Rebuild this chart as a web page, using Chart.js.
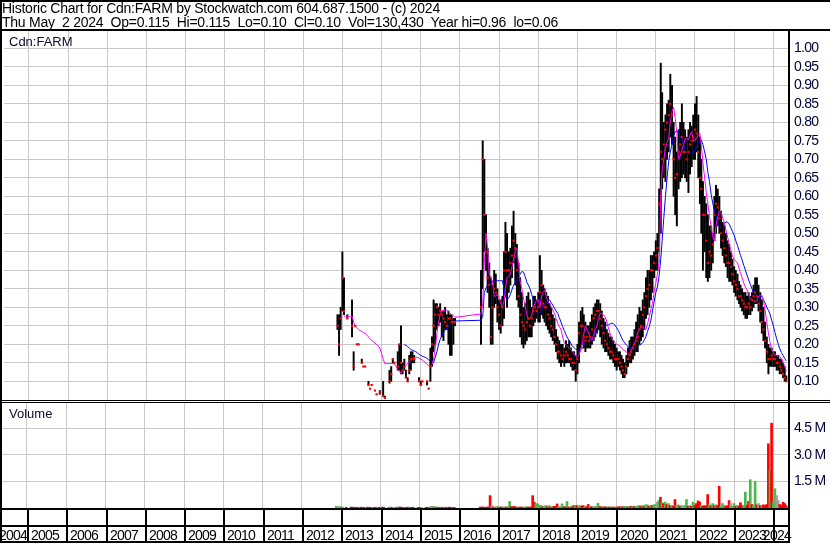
<!DOCTYPE html>
<html>
<head>
<meta charset="utf-8">
<title>Historic Chart for Cdn:FARM</title>
<script src="https://cdn.jsdelivr.net/npm/chart.js@4.4.1/dist/chart.umd.min.js"></script>
<style>
  body { margin: 0; background: #fff; }
  #wrap { position: relative; width: 830px; height: 543px; overflow: hidden; background: #fff; }
  #wrap canvas { position: absolute; left: 0; top: 0; }
  .txt { position: absolute; font-family: "Liberation Sans", Arial, sans-serif; white-space: pre; color: #000; line-height: 14px; }
  .hdr { left: 2px; font-size: 14px; letter-spacing: -0.25px; }
  .lbl { left: 9px; font-size: 13px; color: #0a0a30; }
</style>
</head>
<body>
<div id="wrap">
  <canvas id="priceChart" width="830" height="543"></canvas>
  <canvas id="volumeChart" width="830" height="543"></canvas>
  <div class="txt hdr" style="top:1px">Historic Chart for Cdn:FARM by Stockwatch.com 604.687.1500 - (c) 2024</div>
  <div class="txt hdr" style="top:15px">Thu May  2 2024  Op=0.115  Hi=0.115  Lo=0.10  Cl=0.10  Vol=130,430  Year hi=0.96  lo=0.06</div>
  <div class="txt lbl" style="top:35px">Cdn:FARM</div>
  <div class="txt lbl" style="top:407px">Volume</div>
</div>
<script>
// half-month sampling dates
const dates = [
'2012-11-16','2012-12-01','2012-12-16',
'2013-01-01','2013-01-16','2013-02-01','2013-02-16','2013-03-01','2013-03-16','2013-04-01','2013-04-16','2013-05-01','2013-05-16','2013-06-01','2013-06-16','2013-07-01','2013-07-16','2013-08-01','2013-08-16','2013-09-01','2013-09-16','2013-10-01','2013-10-16','2013-11-01','2013-11-16','2013-12-01','2013-12-16',
'2014-01-01','2014-01-16','2014-02-01','2014-02-16','2014-03-01','2014-03-16','2014-04-01','2014-04-16','2014-05-01','2014-05-16','2014-06-01','2014-06-16','2014-07-01','2014-07-16','2014-08-01','2014-08-16','2014-09-01','2014-09-16','2014-10-01','2014-10-16','2014-11-01','2014-11-16','2014-12-01','2014-12-16',
'2015-01-01','2015-01-16','2015-02-01','2015-02-16','2015-03-01','2015-03-16','2015-04-01','2015-04-16','2015-05-01','2015-05-16','2015-06-01','2015-06-16','2015-07-01','2015-07-16','2015-08-01','2015-08-16','2015-09-01','2015-09-16','2015-10-01','2015-10-16','2015-11-01','2015-11-16','2015-12-01','2015-12-16',
'2016-01-01','2016-01-16','2016-02-01','2016-02-16','2016-03-01','2016-03-16','2016-04-01','2016-04-16','2016-05-01','2016-05-16','2016-06-01','2016-06-16','2016-07-01','2016-07-16','2016-08-01','2016-08-16','2016-09-01','2016-09-16','2016-10-01','2016-10-16','2016-11-01','2016-11-16','2016-12-01','2016-12-16',
'2017-01-01','2017-01-16','2017-02-01','2017-02-16','2017-03-01','2017-03-16','2017-04-01','2017-04-16','2017-05-01','2017-05-16','2017-06-01','2017-06-16','2017-07-01','2017-07-16','2017-08-01','2017-08-16','2017-09-01','2017-09-16','2017-10-01','2017-10-16','2017-11-01','2017-11-16','2017-12-01','2017-12-16',
'2018-01-01','2018-01-16','2018-02-01','2018-02-16','2018-03-01','2018-03-16','2018-04-01','2018-04-16','2018-05-01','2018-05-16','2018-06-01','2018-06-16','2018-07-01','2018-07-16','2018-08-01','2018-08-16','2018-09-01','2018-09-16','2018-10-01','2018-10-16','2018-11-01','2018-11-16','2018-12-01','2018-12-16',
'2019-01-01','2019-01-16','2019-02-01','2019-02-16','2019-03-01','2019-03-16','2019-04-01','2019-04-16','2019-05-01','2019-05-16','2019-06-01','2019-06-16','2019-07-01','2019-07-16','2019-08-01','2019-08-16','2019-09-01','2019-09-16','2019-10-01','2019-10-16','2019-11-01','2019-11-16','2019-12-01','2019-12-16',
'2020-01-01','2020-01-16','2020-02-01','2020-02-16','2020-03-01','2020-03-16','2020-04-01','2020-04-16','2020-05-01','2020-05-16','2020-06-01','2020-06-16','2020-07-01','2020-07-16','2020-08-01','2020-08-16','2020-09-01','2020-09-16','2020-10-01','2020-10-16','2020-11-01','2020-11-16','2020-12-01','2020-12-16',
'2021-01-01','2021-01-16','2021-02-01','2021-02-16','2021-03-01','2021-03-16','2021-04-01','2021-04-16','2021-05-01','2021-05-16','2021-06-01','2021-06-16','2021-07-01','2021-07-16','2021-08-01','2021-08-16','2021-09-01','2021-09-16','2021-10-01','2021-10-16','2021-11-01','2021-11-16','2021-12-01','2021-12-16',
'2022-01-01','2022-01-16','2022-02-01','2022-02-16','2022-03-01','2022-03-16','2022-04-01','2022-04-16','2022-05-01','2022-05-16','2022-06-01','2022-06-16','2022-07-01','2022-07-16','2022-08-01','2022-08-16','2022-09-01','2022-09-16','2022-10-01','2022-10-16','2022-11-01','2022-11-16','2022-12-01','2022-12-16',
'2023-01-01','2023-01-16','2023-02-01','2023-02-16','2023-03-01','2023-03-16','2023-04-01','2023-04-16','2023-05-01','2023-05-16','2023-06-01','2023-06-16','2023-07-01','2023-07-16','2023-08-01','2023-08-16','2023-09-01','2023-09-16','2023-10-01','2023-10-16','2023-11-01','2023-11-16','2023-12-01','2023-12-16',
'2024-01-01','2024-01-16','2024-02-01','2024-02-16','2024-03-01','2024-03-16','2024-04-01','2024-04-16','2024-05-01'
];

// price range in each half month (null = no trades)
const highs = [
0.28, 0.28, 0.30,
0.45, 0.38, null, 0.28, null, null, 0.32, 0.18, 0.25, 0.20, 0.20, null, 0.16, 0.14, 0.14, null, 0.10, 0.08, 0.09, null, 0.075, 0.065, null, 0.075,
null, 0.10, 0.06, null, null, 0.13, 0.14, 0.16, 0.15, null, 0.18, 0.20, 0.25, 0.15, 0.16, 0.13, 0.11, 0.17, 0.18, 0.18, 0.17, null, null, 0.11,
0.10, 0.10, null, null, 0.10, 0.08, 0.19, 0.22, 0.32, 0.31, 0.31, 0.30, 0.31, 0.29, 0.29, 0.30, 0.28, 0.29, 0.28, 0.28, 0.27, 0.27, null, null,
null, null, null, null, null, null, null, null, null, null, null, null, null, 0.40, 0.75, 0.70, 0.55, 0.46, 0.42, 0.38, 0.36, 0.40, 0.39, 0.35,
0.32, 0.32, 0.33, 0.45, 0.53, 0.50, 0.45, 0.46, 0.52, 0.56, 0.50, 0.47, 0.42, 0.38, 0.34, 0.30, 0.31, 0.33, 0.34, 0.32, 0.30, 0.33, 0.33, 0.32,
0.34, 0.44, 0.40, 0.36, 0.35, 0.34, 0.33, 0.31, 0.30, 0.28, 0.27, 0.24, 0.22, 0.21, 0.20, 0.20, 0.19, 0.21, 0.20, 0.21, 0.19, 0.18, 0.18, 0.17,
0.20, 0.26, 0.29, 0.30, 0.28, 0.26, 0.25, 0.25, 0.26, 0.28, 0.30, 0.31, 0.32, 0.32, 0.31, 0.29, 0.27, 0.26, 0.24, 0.23, 0.22, 0.22, 0.21, 0.20,
0.19, 0.18, 0.18, 0.17, 0.16, 0.15, 0.17, 0.19, 0.21, 0.22, 0.22, 0.24, 0.26, 0.28, 0.30, 0.29, 0.32, 0.34, 0.38, 0.40, 0.40, 0.44, 0.44, 0.45,
0.48, 0.50, 0.62, 0.96, 0.88, 0.80, 0.82, 0.85, 0.86, 0.93, 0.90, 0.80, 0.76, 0.72, 0.78, 0.80, 0.85, 0.80, 0.78, 0.76, 0.78, 0.80, 0.79, 0.82,
0.85, 0.87, 0.82, 0.76, 0.70, 0.64, 0.60, 0.58, 0.55, 0.52, 0.52, 0.50, 0.60, 0.63, 0.62, 0.60, 0.56, 0.53, 0.52, 0.50, 0.48, 0.47, 0.45, 0.43,
0.41, 0.40, 0.39, 0.37, 0.36, 0.35, 0.34, 0.34, 0.33, 0.34, 0.33, 0.34, 0.36, 0.38, 0.38, 0.36, 0.34, 0.32, 0.30, 0.26, 0.22, 0.20, 0.19, 0.19,
0.18, 0.18, 0.17, 0.17, 0.16, 0.16, 0.15, 0.14, 0.115
];
const lows = [
0.24, 0.17, 0.24,
0.29, 0.28, null, 0.27, null, null, 0.22, 0.13, 0.25, 0.20, 0.20, null, 0.15, 0.14, 0.14, null, 0.09, 0.08, 0.09, null, 0.075, 0.065, null, 0.065,
null, 0.06, 0.055, null, null, 0.095, 0.10, 0.15, 0.15, null, 0.13, 0.13, 0.12, 0.12, 0.13, 0.11, 0.10, 0.12, 0.13, 0.15, 0.15, null, null, 0.10,
0.09, 0.10, null, null, 0.09, 0.08, 0.10, 0.14, 0.18, 0.20, 0.24, 0.25, 0.26, 0.22, 0.21, 0.24, 0.24, 0.20, 0.17, 0.17, 0.20, 0.25, null, null,
null, null, null, null, null, null, null, null, null, null, null, null, null, 0.20, 0.35, 0.45, 0.40, 0.34, 0.30, 0.20, 0.20, 0.30, 0.31, 0.26,
0.24, 0.23, 0.25, 0.27, 0.33, 0.30, 0.34, 0.36, 0.38, 0.42, 0.36, 0.32, 0.30, 0.22, 0.20, 0.19, 0.20, 0.21, 0.22, 0.22, 0.22, 0.25, 0.26, 0.27,
0.26, 0.26, 0.28, 0.27, 0.26, 0.25, 0.24, 0.23, 0.22, 0.21, 0.20, 0.18, 0.16, 0.15, 0.14, 0.15, 0.14, 0.15, 0.15, 0.15, 0.14, 0.13, 0.13, 0.10,
0.12, 0.15, 0.19, 0.20, 0.19, 0.18, 0.19, 0.19, 0.19, 0.20, 0.21, 0.22, 0.23, 0.24, 0.22, 0.20, 0.19, 0.18, 0.18, 0.17, 0.16, 0.16, 0.15, 0.14,
0.13, 0.14, 0.13, 0.12, 0.11, 0.11, 0.12, 0.14, 0.15, 0.15, 0.16, 0.17, 0.18, 0.18, 0.20, 0.21, 0.22, 0.24, 0.27, 0.28, 0.30, 0.32, 0.34, 0.38,
0.40, 0.40, 0.45, 0.50, 0.62, 0.65, 0.64, 0.70, 0.72, 0.76, 0.74, 0.60, 0.55, 0.52, 0.62, 0.64, 0.65, 0.66, 0.65, 0.64, 0.61, 0.66, 0.68, 0.70,
0.70, 0.72, 0.65, 0.58, 0.50, 0.40, 0.45, 0.38, 0.37, 0.38, 0.40, 0.42, 0.48, 0.50, 0.52, 0.50, 0.46, 0.44, 0.42, 0.41, 0.38, 0.37, 0.37, 0.36,
0.34, 0.33, 0.32, 0.31, 0.30, 0.29, 0.28, 0.27, 0.27, 0.28, 0.28, 0.29, 0.30, 0.31, 0.31, 0.29, 0.26, 0.23, 0.21, 0.19, 0.15, 0.12, 0.14, 0.14,
0.14, 0.14, 0.13, 0.13, 0.12, 0.12, 0.11, 0.10, 0.10
];
const closes = [
0.25, 0.20, 0.27,
0.38, 0.29, null, 0.27, null, null, 0.25, 0.14, 0.25, 0.20, 0.20, null, 0.15, 0.14, 0.14, null, 0.09, 0.08, 0.09, null, 0.075, 0.065, null, 0.07,
null, 0.06, 0.055, null, null, 0.10, 0.12, 0.16, 0.15, null, 0.14, 0.20, 0.15, 0.13, 0.14, 0.11, 0.10, 0.13, 0.16, 0.16, 0.16, null, null, 0.10,
0.09, 0.10, null, null, 0.10, 0.08, 0.14, 0.20, 0.25, 0.28, 0.30, 0.28, 0.29, 0.28, 0.27, 0.26, 0.25, 0.27, 0.27, 0.26, 0.26, 0.26, null, null,
null, null, null, null, null, null, null, null, null, null, null, null, null, 0.30, 0.70, 0.55, 0.45, 0.38, 0.36, 0.22, 0.30, 0.35, 0.34, 0.30,
0.28, 0.25, 0.30, 0.40, 0.45, 0.40, 0.40, 0.42, 0.44, 0.48, 0.46, 0.40, 0.33, 0.28, 0.26, 0.25, 0.24, 0.26, 0.27, 0.25, 0.27, 0.29, 0.30, 0.29,
0.30, 0.34, 0.36, 0.31, 0.30, 0.30, 0.28, 0.27, 0.25, 0.24, 0.22, 0.20, 0.18, 0.18, 0.17, 0.16, 0.17, 0.18, 0.17, 0.16, 0.16, 0.15, 0.15, 0.13,
0.16, 0.23, 0.25, 0.25, 0.22, 0.21, 0.22, 0.21, 0.22, 0.24, 0.27, 0.28, 0.29, 0.29, 0.27, 0.25, 0.23, 0.21, 0.20, 0.19, 0.18, 0.18, 0.17, 0.16,
0.16, 0.16, 0.15, 0.14, 0.13, 0.12, 0.14, 0.16, 0.17, 0.18, 0.19, 0.20, 0.21, 0.22, 0.24, 0.25, 0.28, 0.30, 0.33, 0.35, 0.36, 0.40, 0.40, 0.42,
0.44, 0.46, 0.58, 0.72, 0.70, 0.74, 0.78, 0.80, 0.82, 0.85, 0.82, 0.70, 0.65, 0.66, 0.72, 0.74, 0.76, 0.72, 0.72, 0.70, 0.72, 0.74, 0.75, 0.76,
0.78, 0.77, 0.72, 0.65, 0.62, 0.55, 0.55, 0.48, 0.42, 0.45, 0.44, 0.47, 0.55, 0.58, 0.57, 0.54, 0.50, 0.48, 0.46, 0.44, 0.42, 0.42, 0.41, 0.39,
0.37, 0.36, 0.35, 0.33, 0.33, 0.32, 0.31, 0.30, 0.30, 0.31, 0.30, 0.32, 0.33, 0.34, 0.33, 0.31, 0.29, 0.26, 0.24, 0.21, 0.18, 0.16, 0.16, 0.17,
0.16, 0.16, 0.15, 0.15, 0.14, 0.13, 0.12, 0.11, 0.10
];

// short (magenta) and long (blue) moving averages as drawn
const fastAvg = [
null, null, null,
null, 0.276, 0.276, 0.276, 0.276, 0.276, 0.276, 0.26, 0.248, 0.245, 0.24, 0.237, 0.235, 0.232, 0.23, 0.225, 0.22, 0.215, 0.21, 0.207, 0.203, 0.20, 0.195, 0.19,
0.175, 0.16, 0.148, 0.148, 0.148, 0.148, 0.148, 0.148, 0.145, 0.14, 0.132, 0.128, 0.122, 0.13, 0.138, 0.142, 0.148, 0.153, 0.16, 0.162, 0.164, 0.165, 0.165, 0.163,
0.16, 0.158, 0.153, 0.15, 0.146, 0.142, 0.139, 0.145, 0.16, 0.19, 0.23, 0.26, 0.28, 0.29, 0.293, 0.293, 0.292, 0.288, 0.284, 0.28, 0.277, 0.273, null, null,
null, null, null, null, null, null, null, null, null, null, null, null, null, 0.282, 0.31, 0.42, 0.50, 0.46, 0.39, 0.38, 0.37, 0.33, 0.33, 0.335,
0.325, 0.31, 0.302, 0.315, 0.35, 0.38, 0.385, 0.39, 0.41, 0.43, 0.45, 0.46, 0.42, 0.37, 0.35, 0.325, 0.305, 0.28, 0.267, 0.27, 0.28, 0.30, 0.31, 0.318,
0.32, 0.30, 0.33, 0.34, 0.347, 0.33, 0.315, 0.31, 0.302, 0.293, 0.284, 0.27, 0.257, 0.248, 0.24, 0.22, 0.203, 0.198, 0.194, 0.19, 0.185, 0.18, 0.174, 0.168,
0.167, 0.172, 0.185, 0.203, 0.23, 0.25, 0.24, 0.23, 0.215, 0.21, 0.225, 0.24, 0.25, 0.27, 0.284, 0.284, 0.278, 0.275, 0.26, 0.245, 0.23, 0.215, 0.21, 0.205,
0.20, 0.198, 0.195, 0.19, 0.185, 0.183, 0.18, 0.175, 0.172, 0.185, 0.194, 0.203, 0.215, 0.232, 0.24, 0.248, 0.248, 0.242, 0.24, 0.255, 0.275, 0.295, 0.311, 0.34,
0.365, 0.39, 0.42, 0.60, 0.67, 0.70, 0.73, 0.745, 0.76, 0.80, 0.83, 0.84, 0.81, 0.77, 0.70, 0.71, 0.725, 0.74, 0.755, 0.757, 0.752, 0.765, 0.775, 0.75,
0.75, 0.76, 0.765, 0.77, 0.74, 0.69, 0.65, 0.61, 0.58, 0.545, 0.52, 0.49, 0.48, 0.52, 0.545, 0.56, 0.558, 0.54, 0.53, 0.51, 0.49, 0.47, 0.455, 0.44,
0.428, 0.425, 0.42, 0.405, 0.392, 0.38, 0.365, 0.355, 0.347, 0.335, 0.324, 0.32, 0.317, 0.315, 0.32, 0.329, 0.332, 0.333, 0.315, 0.293, 0.26, 0.23, 0.205, 0.185,
0.178, 0.171, 0.17, 0.168, 0.167, 0.16, 0.153, 0.14, 0.128
];
const slowAvg = [
null, null, null,
null, null, null, null, null, null, null, null, null, null, null, null, null, null, null, null, null, null, null, null, null, null, null, null,
null, null, null, null, null, null, null, null, null, null, null, null, null, null, 0.20, 0.197, 0.194, 0.19, 0.186, 0.184, 0.182, 0.18, 0.177, 0.173,
0.17, 0.168, 0.166, 0.164, 0.162, 0.158, 0.155, 0.148, 0.15, 0.165, 0.18, 0.20, 0.213, 0.223, 0.232, 0.238, 0.244, 0.249, 0.254, 0.258, 0.262, 0.263, null, null,
null, null, null, null, null, null, null, null, null, null, null, null, null, 0.265, 0.275, 0.34, 0.352, 0.36, 0.365, 0.368, 0.37, 0.37, 0.371, 0.372,
0.372, 0.372, 0.372, 0.35, 0.328, 0.32, 0.325, 0.335, 0.348, 0.36, 0.368, 0.376, 0.382, 0.39, 0.397, 0.395, 0.383, 0.368, 0.36, 0.35, 0.335, 0.32, 0.305, 0.292,
0.287, 0.285, 0.292, 0.302, 0.308, 0.315, 0.318, 0.32, 0.313, 0.306, 0.298, 0.29, 0.284, 0.272, 0.26, 0.248, 0.237, 0.226, 0.217, 0.21, 0.202, 0.194, 0.191, 0.187,
0.185, 0.185, 0.186, 0.189, 0.195, 0.20, 0.205, 0.208, 0.21, 0.215, 0.222, 0.228, 0.234, 0.24, 0.245, 0.248, 0.249, 0.25, 0.252, 0.253, 0.255, 0.257, 0.256, 0.252,
0.245, 0.238, 0.228, 0.218, 0.21, 0.204, 0.198, 0.194, 0.19, 0.187, 0.185, 0.187, 0.19, 0.194, 0.198, 0.20, 0.205, 0.212, 0.221, 0.235, 0.248, 0.265, 0.29, 0.315,
0.34, 0.355, 0.385, 0.43, 0.48, 0.54, 0.60, 0.65, 0.695, 0.72, 0.74, 0.765, 0.775, 0.775, 0.772, 0.762, 0.75, 0.74, 0.73, 0.725, 0.72, 0.717, 0.716, 0.72,
0.725, 0.735, 0.745, 0.752, 0.752, 0.74, 0.72, 0.70, 0.665, 0.64, 0.605, 0.58, 0.56, 0.545, 0.525, 0.518, 0.515, 0.515, 0.525, 0.531, 0.53, 0.525, 0.515, 0.505,
0.495, 0.48, 0.467, 0.453, 0.44, 0.428, 0.413, 0.40, 0.387, 0.374, 0.362, 0.35, 0.338, 0.335, 0.332, 0.329, 0.329, 0.329, 0.32, 0.312, 0.30, 0.292, 0.282, 0.265,
0.25, 0.232, 0.215, 0.20, 0.188, 0.178, 0.17, 0.162, 0.155
];

// largest daily volume in each half month, millions of shares
const volumes = [
0.10, 0.08, 0.06,
0.08, 0.05, null, 0.04, null, null, 0.05, 0.05, 0.04, 0.04, 0.04, null, 0.05, 0.04, 0.04, null, 0.05, 0.04, 0.04, null, 0.04, 0.04, null, 0.04,
null, 0.05, 0.04, null, null, 0.04, 0.05, 0.04, 0.04, null, 0.05, 0.05, 0.06, 0.04, 0.04, 0.04, 0.04, 0.05, 0.04, 0.04, 0.04, null, null, 0.04,
0.04, 0.04, null, null, 0.04, 0.04, 0.05, 0.08, 0.10, 0.06, 0.05, 0.05, 0.04, 0.05, 0.04, 0.04, 0.05, 0.04, 0.05, 0.04, 0.04, 0.04, null, null,
null, null, null, null, null, null, null, null, null, null, null, null, null, 0.05, 0.06, 0.05, 0.04, 0.05, 0.06, 0.70, 0.14, 0.06, 0.05, 0.08,
0.06, 0.05, 0.06, 0.05, 0.06, 0.05, 0.08, 0.37, 0.08, 0.08, 0.08, 0.06, 0.05, 0.05, 0.05, 0.05, 0.05, 0.08, 0.05, 0.05, 0.06, 0.70, 0.33, 0.25,
0.23, 0.15, 0.14, 0.08, 0.06, 0.14, 0.08, 0.14, 0.06, 0.08, 0.10, 0.08, 0.23, 0.06, 0.08, 0.23, 0.06, 0.08, 0.37, 0.06, 0.08, 0.06, 0.14, 0.14,
0.14, 0.10, 0.14, 0.10, 0.14, 0.06, 0.08, 0.20, 0.06, 0.08, 0.06, 0.08, 0.10, 0.27, 0.08, 0.06, 0.08, 0.06, 0.06, 0.06, 0.06, 0.06, 0.05, 0.05,
0.06, 0.06, 0.08, 0.06, 0.08, 0.10, 0.08, 0.06, 0.08, 0.10, 0.08, 0.10, 0.08, 0.10, 0.14, 0.10, 0.14, 0.10, 0.18, 0.18, 0.10, 0.14, 0.14, 0.18,
0.20, 0.33, 0.42, 0.61, 0.30, 0.25, 0.33, 0.20, 0.25, 0.14, 0.14, 0.10, 0.48, 0.14, 0.18, 0.10, 0.14, 0.10, 0.14, 0.48, 0.10, 0.14, 0.10, 0.33,
0.14, 0.25, 0.40, 0.33, 0.14, 0.10, 0.14, 0.10, 0.76, 0.18, 0.14, 0.25, 0.14, 0.18, 0.14, 1.23, 0.10, 0.25, 0.14, 0.10, 0.14, 0.42, 0.25, 0.10,
0.25, 0.10, 0.14, 0.10, 0.30, 0.14, 0.14, 0.90, 0.14, 0.37, 1.60, 0.20, 0.14, 1.50, 0.18, 0.25, 0.14, 0.14, 0.18, 0.14, 0.20, 3.63, 2.12, 4.80,
0.30, 1.09, 0.70, 0.42, 0.20, 0.14, 0.33, 0.25, 0.13
];
// u = up day, d = down day, f = unchanged
const volDir = [
'u', 'f', 'u',
'u', 'f', null, 'd', null, null, 'd', 'd', 'd', 'd', 'd', null, 'd', 'd', 'd', null, 'd', 'd', 'd', null, 'd', 'd', null, 'd',
null, 'd', 'd', null, null, 'u', 'u', 'd', 'u', null, 'd', 'u', 'd', 'd', 'd', 'u', 'd', 'd', 'u', 'd', 'd', null, null, 'd',
'd', 'u', null, null, 'd', 'd', 'u', 'u', 'u', 'u', 'd', 'u', 'd', 'u', 'd', 'u', 'd', 'u', 'd', 'd', 'u', 'd', null, null,
null, null, null, null, null, null, null, null, null, null, null, null, null, 'd', 'd', 'd', 'd', 'd', 'd', 'd', 'f', 'd', 'u', 'u',
'u', 'd', 'd', 'u', 'u', 'd', 'u', 'u', 'd', 'd', 'd', 'd', 'u', 'd', 'd', 'd', 'u', 'u', 'd', 'd', 'd', 'd', 'd', 'u',
'u', 'u', 'u', 'd', 'u', 'u', 'd', 'u', 'd', 'u', 'd', 'd', 'd', 'u', 'u', 'u', 'd', 'd', 'u', 'd', 'u', 'd', 'd', 'u',
'd', 'u', 'u', 'd', 'd', 'u', 'd', 'd', 'u', 'd', 'u', 'u', 'u', 'u', 'd', 'd', 'u', 'd', 'd', 'u', 'd', 'u', 'd', 'd',
'u', 'd', 'd', 'u', 'd', 'u', 'u', 'd', 'u', 'd', 'u', 'd', 'u', 'u', 'u', 'd', 'u', 'd', 'u', 'u', 'd', 'u', 'd', 'u',
'u', 'f', 'u', 'd', 'u', 'd', 'u', 'd', 'u', 'd', 'u', 'd', 'd', 'u', 'u', 'd', 'u', 'f', 'u', 'u', 'd', 'u', 'd', 'u',
'd', 'd', 'd', 'd', 'u', 'd', 'd', 'd', 'd', 'u', 'd', 'u', 'd', 'u', 'd', 'd', 'u', 'u', 'u', 'd', 'd', 'd', 'f', 'u',
'u', 'd', 'u', 'd', 'd', 'd', 'u', 'u', 'd', 'd', 'u', 'd', 'u', 'u', 'd', 'f', 'd', 'u', 'd', 'd', 'd', 'd', 'u', 'd',
'u', 'u', 'f', 'f', 'd', 'd', 'd', 'd', 'd'
];

const priceTicks = [0.10, 0.15, 0.20, 0.25, 0.30, 0.35, 0.40, 0.45, 0.50, 0.55, 0.60, 0.65, 0.70, 0.75, 0.80, 0.85, 0.90, 0.95, 1.00];
const volumeTicks = [1.5, 3.0, 4.5];
const years = [2004, 2005, 2006, 2007, 2008, 2009, 2010, 2011, 2012, 2013, 2014, 2015, 2016, 2017, 2018, 2019, 2020, 2021, 2022, 2023, 2024];

const X_MIN = 2004.3636, X_MAX = 2024.374;
const FONT = '"Liberation Sans", Arial, sans-serif';
const GRID = '#c8c8c8';
const LABEL = '#00003a';
const dirColor = {u: '#4cb84c', d: '#ff0000', f: '#a0a0a0'};

function toYear(s) {
  const [y, m, d] = s.split('-').map(Number);
  const start = Date.UTC(y, 0, 1), end = Date.UTC(y + 1, 0, 1);
  return y + (Date.UTC(y, m - 1, d) - start) / (end - start);
}

// build the datasets from the arrays above
const rangeData = [], closeData = [], fastData = [], slowData = [], volData = [], volColors = [];
dates.forEach((s, i) => {
  const x = toYear(s);
  if (highs[i] !== null) {
    rangeData.push({x: x, y: [lows[i], highs[i]]});
    closeData.push({x: x, y: closes[i]});
  }
  if (fastAvg[i] !== null) fastData.push({x: x, y: fastAvg[i]});
  if (slowAvg[i] !== null) slowData.push({x: x, y: slowAvg[i]});
  if (volumes[i] !== null) {
    volData.push({x: x, y: volumes[i]});
    volColors.push(dirColor[volDir[i]]);
  }
});

const xAxis = {
  type: 'linear', min: X_MIN, max: X_MAX, offset: false,
  afterBuildTicks: s => { s.ticks = years.map(v => ({value: v})); },
  afterFit: s => { s.height = 0; },
  ticks: {display: false},
  grid: {color: GRID, drawTicks: false, offset: false},
  border: {display: false}
};

// narrow the digits a little, like the original bitmap font
const tightText = {
  id: 'tightText',
  beforeDraw(chart) { chart.ctx.letterSpacing = '-0.7px'; }
};

// panel frames, year ticks and year labels
const frame = {
  id: 'frame',
  afterDraw(chart) {
    const ctx = chart.ctx;
    const xs = chart.scales.x;
    ctx.save();
    ctx.letterSpacing = '-0.75px';
    ctx.font = '14px ' + FONT;
    ctx.fillStyle = '#000';
    ctx.textBaseline = 'alphabetic';
    years.forEach(yr => {
      const px = Math.round(xs.getPixelForValue(yr));
      const w = ctx.measureText(String(yr)).width;
      const tx = Math.max(-1, Math.min(px + 4, xs.right + 3 - w));
      ctx.fillText(String(yr), tx, 539.5);
    });
    years.forEach(yr => {
      const px = Math.round(xs.getPixelForValue(yr));
      if (px > 2 && px < xs.right) ctx.fillRect(px, 509, 2, 32);
    });
    ctx.fillRect(0, 0, 830, 2);
    ctx.fillRect(0, 29, 830, 2);
    ctx.fillRect(0, 400, 830, 1);
    ctx.fillRect(0, 402, 830, 1);
    ctx.fillRect(0, 508, 790, 2);
    ctx.fillRect(0, 525, 790, 2);
    ctx.fillRect(0, 541, 790, 2);
    ctx.fillRect(0, 0, 2, 543);
    ctx.fillRect(788, 29, 2, 514);
    ctx.restore();
  }
};

new Chart(document.getElementById('priceChart'), {
  data: {
    datasets: [
      {type: 'bar', data: rangeData, backgroundColor: '#000000', barThickness: 1.3, order: 4},
      {type: 'line', data: slowData, borderColor: '#0000ff', borderWidth: 1, pointRadius: 0, tension: 0, order: 3},
      {type: 'line', data: fastData, borderColor: '#ff00ff', borderWidth: 1, pointRadius: 0, tension: 0, order: 2},
      {type: 'line', data: closeData, showLine: false, pointStyle: 'rect', pointRadius: 1.5,
       pointBackgroundColor: '#ff0000', pointBorderWidth: 0, order: 1}
    ]
  },
  options: {
    responsive: false, animation: false, devicePixelRatio: 1, events: [],
    layout: {padding: {left: 2, top: 31, right: 0, bottom: 143}},
    plugins: {legend: {display: false}, tooltip: {enabled: false}},
    scales: {
      x: xAxis,
      y: {
        type: 'linear', position: 'right', min: 0.0495, max: 1.0468,
        afterBuildTicks: s => { s.ticks = priceTicks.map(v => ({value: v})); },
        afterFit: s => { s.width = 42; },
        ticks: {padding: 6, color: LABEL, font: {family: FONT, size: 14}, callback: v => v.toFixed(2)},
        grid: {color: GRID, drawTicks: false},
        border: {display: false}
      }
    }
  },
  plugins: [tightText]
});

new Chart(document.getElementById('volumeChart'), {
  data: {
    datasets: [
      {type: 'bar', data: volData, backgroundColor: volColors, barThickness: 2}
    ]
  },
  options: {
    responsive: false, animation: false, devicePixelRatio: 1, events: [],
    layout: {padding: {left: 2, top: 403, right: 0, bottom: 35}},
    plugins: {legend: {display: false}, tooltip: {enabled: false}},
    scales: {
      x: xAxis,
      y: {
        type: 'linear', position: 'right', min: 0, max: 5.94,
        afterBuildTicks: s => { s.ticks = volumeTicks.map(v => ({value: v})); },
        afterFit: s => { s.width = 42; },
        ticks: {padding: 6, color: LABEL, font: {family: FONT, size: 14}, callback: v => v.toFixed(1) + ' M'},
        grid: {color: GRID, drawTicks: false},
        border: {display: false}
      }
    }
  },
  plugins: [tightText, frame]
});
</script>
</body>
</html>
